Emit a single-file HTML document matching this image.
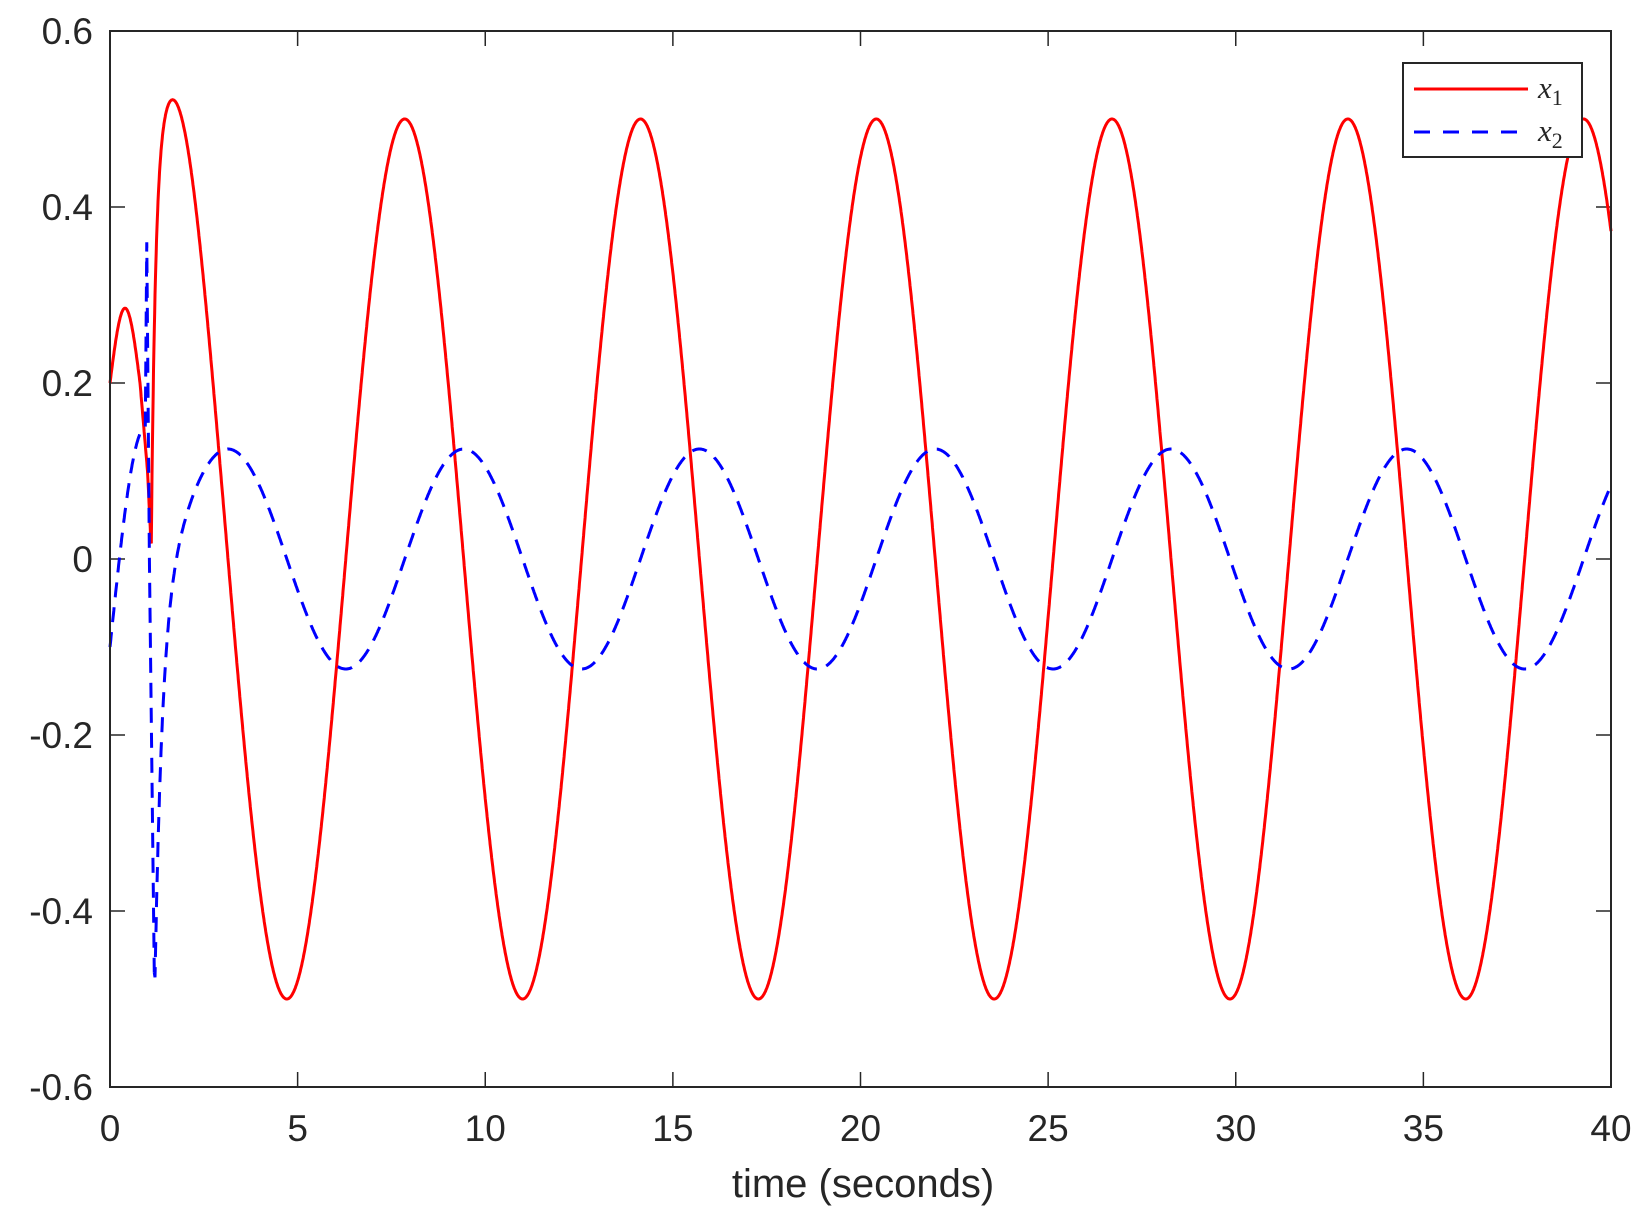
<!DOCTYPE html>
<html><head><meta charset="utf-8"><style>
html,body{margin:0;padding:0;background:#fff;}
svg text{font-family:"Liberation Sans",Arial,sans-serif;fill:#262626;}
</style></head><body>
<svg id="s" width="1644" height="1224" viewBox="0 0 1644 1224" xmlns="http://www.w3.org/2000/svg">
<rect width="1644" height="1224" fill="#fff"/>
<g id="ticks" stroke="#262626" stroke-width="1.5"></g>
<g id="lbl" font-size="37"></g>
<path id="p1" fill="none" stroke="#ff0000" stroke-width="3"/>
<path id="p2" fill="none" stroke="#0000ff" stroke-width="3" stroke-dasharray="15,10"/>
<rect x="110" y="31" width="1501" height="1056" fill="none" stroke="#262626" stroke-width="2"/>
<rect x="1403" y="63" width="179" height="94" fill="#fff" stroke="#262626" stroke-width="2"/>
<line x1="1414" y1="89" x2="1528" y2="89" stroke="#ff0000" stroke-width="3"/>
<line x1="1414" y1="132" x2="1528" y2="132" stroke="#0000ff" stroke-width="3" stroke-dasharray="16,13"/>
<text x="1538" y="98" font-style="italic" font-size="31" style="font-family:'Liberation Serif',serif">x<tspan font-size="22" dy="7" font-style="normal">1</tspan></text>
<text x="1538" y="141" font-style="italic" font-size="31" style="font-family:'Liberation Serif',serif">x<tspan font-size="22" dy="7" font-style="normal">2</tspan></text>
<text x="863" y="1197" font-size="40" text-anchor="middle">time (seconds)</text>
</svg>
<script>
var L=110,R=1611,T=31,B=1087;
function X(t){return L+(R-L)*t/40;}
function Y(v){return B-(v+0.6)/1.2*(B-T);}
var tk=document.getElementById('ticks'),lb=document.getElementById('lbl'),h='',g='';
for(var i=0;i<=8;i++){var x=X(i*5);h+='<line x1="'+x+'" y1="'+B+'" x2="'+x+'" y2="'+(B-15)+'"/><line x1="'+x+'" y1="'+T+'" x2="'+x+'" y2="'+(T+15)+'"/>';
g+='<text x="'+x+'" y="1141" text-anchor="middle">'+(i*5)+'</text>';}
for(var j=0;j<=6;j++){var v=-0.6+j*0.2;var y=Y(v);h+='<line x1="'+L+'" y1="'+y+'" x2="'+(L+15)+'" y2="'+y+'"/><line x1="'+R+'" y1="'+y+'" x2="'+(R-15)+'" y2="'+y+'"/>';
var s=Math.abs(v)<1e-9?'0':v.toFixed(1);g+='<text x="93" y="'+(y+13)+'" text-anchor="end">'+s+'</text>';}
tk.innerHTML=h;lb.innerHTML=g;
function x1(t){
 if(t<1.1){
  var p=[[0,0.2],[0.4,0.285],[0.8,0.2],[1.0,0.1],[1.1,0.01]];
  for(var k=0;k<p.length-1;k++){if(t<=p[k+1][0]){var a=p[k],b=p[k+1],u=(t-a[0])/(b[0]-a[0]);
   if(k==0){return 0.2+0.085*Math.sin(u*Math.PI/2);}
   if(k==1){return 0.285-0.085*(1-Math.cos(u*Math.PI/2));}
   return a[1]+(b[1]-a[1])*u;}}
 }
 var dt=t-1.1;
 return 0.5*Math.sin(t)-0.436*Math.exp(-9*dt)+0.03*Math.exp(-Math.pow((t-1.9)/0.7,2));
}
var d='';
for(var t=0;t<=40.0001;t+=0.01){d+=(t==0?'M':'L')+X(t).toFixed(1)+','+Y(x1(t)).toFixed(1);}
document.getElementById('p1').setAttribute('d',d);
var d2='';var first=true;
for(var t=0;t<=0.95;t+=0.01){var v=-0.1+0.25*Math.sin(t/0.95*Math.PI/2);d2+=(first?'M':'L')+X(t).toFixed(1)+','+Y(v).toFixed(1);first=false;}
d2+='L'+X(0.98)+','+Y(0.36)+'L'+X(1.05)+','+Y(0.0)+'L'+X(1.18)+','+Y(-0.47);
d2+='M'+X(1.18)+','+Y(-0.47);
for(var t=1.2;t<=40.0001;t+=0.01){var v=-0.125*Math.cos(t)-0.43*Math.exp(-5*(t-1.2));d2+='L'+X(t).toFixed(1)+','+Y(v).toFixed(1);}
document.getElementById('p2').setAttribute('d',d2);
</script>
</body></html>
